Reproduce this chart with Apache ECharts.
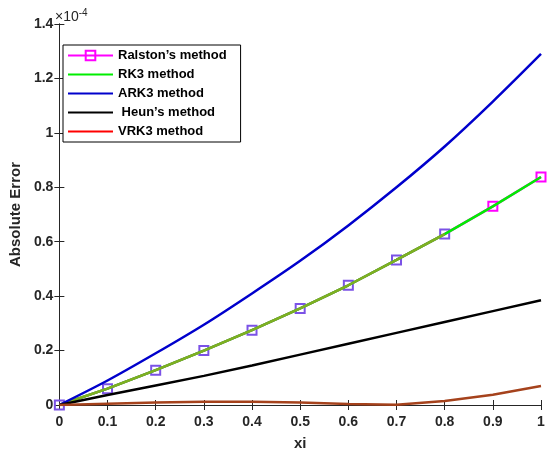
<!DOCTYPE html>
<html>
<head>
<meta charset="utf-8">
<script src="https://cdn.jsdelivr.net/npm/echarts@6/dist/echarts.min.js"></script>
<style>
  html, body { margin: 0; padding: 0; background: #fff; }
  #chart { width: 550px; height: 456px; }
</style>
</head>
<body>
<div id="chart"></div>
<script>
// values in units of 1e-4
var xi = [0, 0.1, 0.2, 0.3, 0.4, 0.5, 0.6, 0.7, 0.8, 0.9, 1.0];
var ralston = [0, 0.06, 0.128, 0.2, 0.275, 0.355, 0.44, 0.533, 0.628, 0.73, 0.838];
var rk3 = [0, 0.06, 0.128, 0.2, 0.275, 0.355, 0.44, 0.533, 0.628, 0.73, 0.838];
var ark3 = [0, 0.09, 0.19, 0.295, 0.41, 0.53, 0.66, 0.80, 0.95, 1.115, 1.29];
var heun = [0, 0.037, 0.072, 0.107, 0.145, 0.185, 0.225, 0.265, 0.305, 0.345, 0.385];
var vrk3 = [0, 0.005, 0.009, 0.012, 0.012, 0.009, 0.004, 0.001, 0.015, 0.038, 0.07];
var yTicks = ['0', '0.2', '0.4', '0.6', '0.8', '1', '1.2', '1.4'];

var FONT = 'Liberation Sans, Arial, sans-serif';
var AXIS_COLOR = '#262626';

function pairs(vals) {
	var out = [];
	for (var i = 0; i < xi.length; i++) {
		out.push([xi[i], vals[i]]);
	}
	return out;
}

// 标记点颜色: 前面偏紫, 最后两个是品红
function ralstonPoints() {
	var out = pairs(ralston);
	for (var i = 0; i < out.length; i++) {
		out[i] = {
			value: out[i],
			itemStyle: { borderColor: i < 9 ? '#7b52e6' : '#ff00ff' }
		};
	}
	return out;
}

var chart = echarts.init(document.getElementById('chart'));

var axisCommon = {
	axisLine: { show: true, lineStyle: { color: AXIS_COLOR, width: 1 } },
	axisTick: { show: true, inside: true, length: 5, lineStyle: { color: AXIS_COLOR } },
	splitLine: { show: false }
};

// 图例中无标记的线只显示线段
var noMark = { opacity: 0 };

chart.setOption({
	animation: false,
	grid: { left: 53, right: 9, top: 24, bottom: 49 },
	xAxis: [
		Object.assign({
			type: 'value', min: 0, max: 1, interval: 0.1, position: 'bottom',
			name: 'xi', nameLocation: 'middle', nameGap: 31,
			nameTextStyle: { fontFamily: FONT, fontSize: 15, fontWeight: 'bold', color: '#262626' },
			axisLabel: {
				fontFamily: FONT, fontSize: 14, fontWeight: 'bold', color: '#262626', margin: 10,
				formatter: function (v) { return String(Math.round(v * 10) / 10); }
			}
		}, axisCommon),
		Object.assign({
			type: 'value', min: 0, max: 1, interval: 0.1, position: 'top',
			axisLabel: { show: false }
		}, axisCommon)
	],
	yAxis: [
		Object.assign({
			type: 'value', min: 0, max: 1.4, interval: 0.2, position: 'left',
			name: 'Absolute Error', nameLocation: 'middle', nameGap: 32,
			nameTextStyle: { fontFamily: FONT, fontSize: 15, fontWeight: 'bold', color: '#262626' },
			axisLabel: {
				fontFamily: FONT, fontSize: 14, fontWeight: 'bold', color: '#262626', margin: 6,
				formatter: function (v) { return yTicks[Math.round(v / 0.2)]; }
			}
		}, axisCommon),
		Object.assign({
			type: 'value', min: 0, max: 1.4, interval: 0.2, position: 'right',
			axisLabel: { show: false }
		}, axisCommon)
	],
	graphic: [{
		type: 'text', left: 55, top: 8,
		style: {
			rich: {
				a: { fontFamily: FONT, fontSize: 14, fill: '#262626' },
				b: { fontFamily: FONT, fontSize: 10, fill: '#262626', verticalAlign: 'top', padding: [0, 0, 8, 0] }
			},
			text: '{a|\u00d710}{b|-4}'
		}
	}],
	legend: {
		orient: 'vertical', left: 63, top: 45,
		width: 171,
		padding: [4, 14, 4, 4],
		backgroundColor: '#fff', borderColor: '#000', borderWidth: 1, borderRadius: 0,
		itemWidth: 45, itemHeight: 12, itemGap: 6,
		textStyle: { fontFamily: FONT, fontSize: 13, fontWeight: 'bold', color: '#000' },
		data: [
			{ name: 'Ralston\u2019s method', itemStyle: { borderColor: '#ff00ff' } },
			{ name: 'RK3 method', itemStyle: noMark },
			{ name: 'ARK3 method', itemStyle: noMark },
			{ name: ' Heun\u2019s method', itemStyle: noMark },
			{ name: 'VRK3 method', itemStyle: noMark, lineStyle: { color: '#ff0000' } }
		]
	},
	series: [
		{
			name: 'Ralston\u2019s method', type: 'line', data: ralstonPoints(), z: 2,
			color: '#ff00ff',
			symbol: 'rect', symbolSize: 9, showAllSymbol: true,
			itemStyle: { color: 'rgba(255,255,255,0)', borderColor: '#ff00ff', borderWidth: 2 },
			lineStyle: { color: '#ff00ff', width: 2.5 }
		},
		{
			name: 'RK3 method', type: 'line', data: pairs(rk3), z: 3,
			color: '#00ee00', symbol: 'none',
			lineStyle: { color: '#00ee00', width: 2.5 }
		},
		{
			name: 'RK3 overlay', type: 'line', data: pairs(rk3.slice(0, 9)), z: 3,
			color: '#7fae22', symbol: 'none',
			lineStyle: { color: '#7fae22', width: 2.5 }
		},
		{
			name: 'ARK3 method', type: 'line', data: pairs(ark3), z: 3,
			color: '#0000cc', symbol: 'none', smooth: 0.3,
			lineStyle: { color: '#0000cc', width: 2.5 }
		},
		{
			name: ' Heun\u2019s method', type: 'line', data: pairs(heun), z: 3,
			color: '#000', symbol: 'none',
			lineStyle: { color: '#000', width: 2.5 }
		},
		{
			name: 'VRK3 method', type: 'line', data: pairs(vrk3), z: 3,
			color: '#ff0000', symbol: 'none',
			lineStyle: { color: '#a5421c', width: 2.5 }
		}
	]
});
</script>
</body>
</html>
